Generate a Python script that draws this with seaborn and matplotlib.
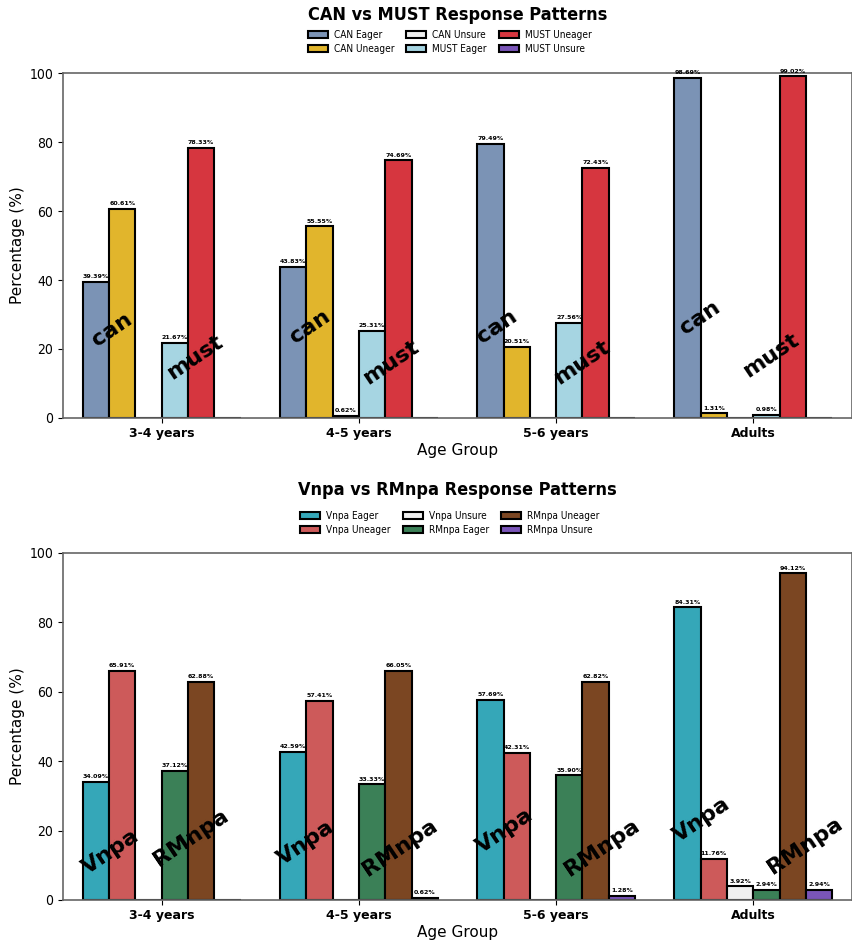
import numpy as np
import pandas as pd
import matplotlib
matplotlib.use("Agg")
import matplotlib.pyplot as plt
import seaborn as sns

# ---- data ----
age_groups = ["3-4 years", "4-5 years", "5-6 years", "Adults"]

can_series = ["CAN Eager", "CAN Uneager", "CAN Unsure",
              "MUST Eager", "MUST Uneager", "MUST Unsure"]
can_eager = [39.39, 43.83, 79.49, 98.69]
can_uneager = [60.61, 55.55, 20.51, 1.31]
can_unsure = [0.0, 0.62, 0.0, 0.0]
must_eager = [21.67, 25.31, 27.56, 0.98]
must_uneager = [78.33, 74.69, 72.43, 99.02]
must_unsure = [0.0, 0.0, 0.0, 0.0]

vn_series = ["Vnpa Eager", "Vnpa Uneager", "Vnpa Unsure",
             "RMnpa Eager", "RMnpa Uneager", "RMnpa Unsure"]
vnpa_eager = [34.09, 42.59, 57.69, 84.31]
vnpa_uneager = [65.91, 57.41, 42.31, 11.76]
vnpa_unsure = [0.0, 0.0, 0.0, 3.92]
rmnpa_eager = [37.12, 33.33, 35.90, 2.94]
rmnpa_uneager = [62.88, 66.05, 62.82, 94.12]
rmnpa_unsure = [0.0, 0.62, 1.28, 2.94]

can_colors = ["#7b93b5", "#e1b52c", "#f0f0f0", "#a6d5e2", "#d6363f", "#7a55b8"]
vn_colors = ["#35a7b8", "#cd5a5a", "#f0f0f0", "#3b8057", "#7b4622", "#7a55b8"]

# overlay word positions (offset from group centre, height)
can_word = ("can", [-0.25, -0.25, -0.30, -0.27], [25.5, 26.5, 26.5, 29])
must_word = ("must", [0.17, 0.16, 0.13, 0.09], [17.7, 16, 16, 18])
vn_word = ("Vnpa", [-0.26, -0.27, -0.26, -0.26], [13.8, 16.4, 20, 23])
rm_word = ("RMnpa", [0.15, 0.21, 0.23, 0.26], [18, 15, 15, 15.5])


def to_long(series, columns):
    rows = []
    for name, vals in zip(series, columns):
        for g, v in zip(age_groups, vals):
            rows.append({"Age Group": g, "Series": name, "Percentage": v})
    return pd.DataFrame(rows)


sns.set_style("ticks")
plt.rcParams["font.family"] = ["DejaVu Sans"]
plt.rcParams["text.color"] = "black"
plt.rcParams["axes.labelcolor"] = "black"
plt.rcParams["xtick.color"] = "black"
plt.rcParams["ytick.color"] = "black"

fig = plt.figure(figsize=(8.52, 9.41), dpi=100)
ax1 = fig.add_axes([0.074, 0.5558, 0.926, 0.3666])
ax2 = fig.add_axes([0.074, 0.0436, 0.926, 0.3688])


def draw(ax, df, series, colors, title, words, title_y, legend_y):
    sns.barplot(data=df, x="Age Group", y="Percentage", hue="Series",
                hue_order=series, order=age_groups, palette=colors,
                width=0.8, edgecolor="black", linewidth=1.5,
                saturation=1, errorbar=None, ax=ax)
    # value labels
    for cont in ax.containers:
        for bar in cont:
            h = bar.get_height()
            if h > 0:
                ax.text(bar.get_x() + bar.get_width() / 2, h + 0.8,
                        f"{h:.2f}%", ha="center", va="bottom",
                        fontsize=4.5, fontweight="bold")
    # overlay words
    for word, dxs, ys in words:
        for i, (dx, y) in enumerate(zip(dxs, ys)):
            ax.text(i + dx, y, word, rotation=34, ha="center", va="center",
                    fontsize=16, fontweight="bold", color="black")
    ax.set_ylim(0, 100)
    ax.set_xlim(-0.5, 3.5)
    ax.set_ylabel("Percentage (%)", fontsize=11, labelpad=3)
    ax.set_xlabel("Age Group", fontsize=11, labelpad=2)
    ax.set_yticks([0, 20, 40, 60, 80, 100])
    ax.tick_params(axis="y", labelsize=10)
    ax.tick_params(axis="x", labelsize=9, pad=3)
    for lab in ax.get_yticklabels():
        lab.set_fontstretch("condensed")
    for lab in ax.get_xticklabels():
        lab.set_fontweight("bold")
    for sp in ax.spines.values():
        sp.set_visible(True)
        sp.set_color("#666666")
        sp.set_linewidth(1.2)
    ax.legend(loc="center", bbox_to_anchor=(0.49, legend_y), ncol=3,
              frameon=False, handlelength=2.0,
              columnspacing=1.2, handletextpad=0.6, labelspacing=0.45,
              prop={"size": 7.2, "stretch": "condensed"})
    fig.text(0.537, title_y, title, ha="center", va="center",
             fontsize=13, fontweight="bold", fontstretch="condensed")


draw(ax1, to_long(can_series, [can_eager, can_uneager, can_unsure,
                               must_eager, must_uneager, must_unsure]),
     can_series, can_colors, "CAN vs MUST Response Patterns",
     [can_word, must_word], 1 - 15 / 941, 1.09)
draw(ax2, to_long(vn_series, [vnpa_eager, vnpa_uneager, vnpa_unsure,
                              rmnpa_eager, rmnpa_uneager, rmnpa_unsure]),
     vn_series, vn_colors, "Vnpa vs RMnpa Response Patterns",
     [vn_word, rm_word], 1 - 490 / 941, 1.086)

fig.savefig("out.png", dpi=100)
